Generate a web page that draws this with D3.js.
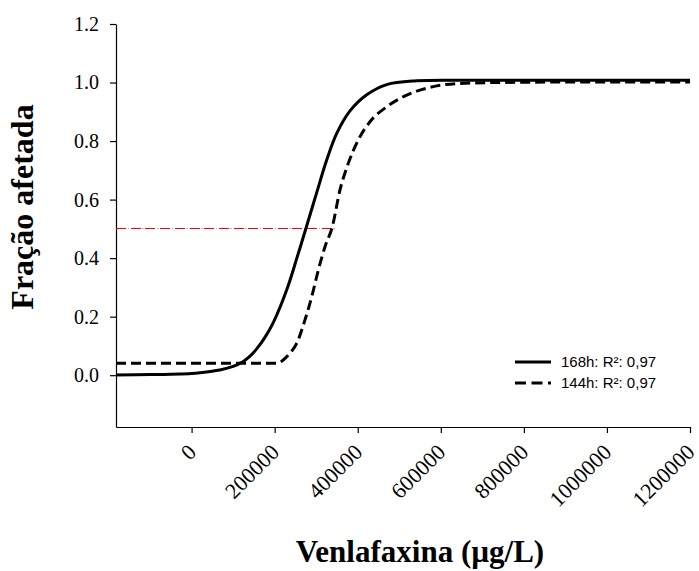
<!DOCTYPE html>
<html>
<head>
<meta charset="utf-8">
<script src="https://cdn.jsdelivr.net/npm/d3@7"></script>
<style>
  html, body { margin: 0; padding: 0; background: #fff; }
  svg { display: block; }
</style>
</head>
<body>
<svg id="chart" width="699" height="571"></svg>
<script>
// ---- data ----
const xTicks = [0, 200000, 400000, 600000, 800000, 1000000, 1200000];
const yTicks = [0.0, 0.2, 0.4, 0.6, 0.8, 1.0, 1.2];

const series168X = [-182000, -100000, 0, 20000, 68000, 100000, 124500, 140000, 156700, 177000, 198400, 230400, 254500, 275400, 301200, 325300, 349400, 381400, 421600, 469700, 542000, 650000, 800000, 1000000, 1200000];
const series168Y = [0.001, 0.002, 0.006, 0.0085, 0.018, 0.030, 0.047, 0.064, 0.090, 0.130, 0.185, 0.297, 0.405, 0.502, 0.624, 0.735, 0.826, 0.903, 0.958, 0.993, 1.006, 1.008, 1.008, 1.008, 1.008];

const series144X = [-182000, 0, 100000, 180000, 204000, 216000, 229000, 241000, 253000, 273000, 289200, 305100, 321200, 338800, 357300, 377300, 401400, 429500, 469700, 517900, 581900, 646200, 800000, 1000000, 1200000];
const series144Y = [0.041, 0.041, 0.041, 0.041, 0.041, 0.047, 0.063, 0.082, 0.109, 0.189, 0.268, 0.359, 0.439, 0.507, 0.633, 0.724, 0.804, 0.866, 0.917, 0.957, 0.986, 0.997, 1.001, 1.002, 1.002];

const refLineX = [-182000, 348000];
const refLineY = [0.5, 0.5];

const legendLabels = ["168h: R²: 0,97", "144h: R²: 0,97"];
const xTitle = "Venlafaxina (µg/L)";
const yTitle = "Fração afetada";

// ---- layout ----
const svg = d3.select("#chart");
const x = d3.scaleLinear().domain([-182000, 1200000]).range([116, 690]);
const y = d3.scaleLinear().domain([-0.177, 1.2]).range([427, 24]);

const serif = "'Liberation Serif', 'Times New Roman', serif";
const sans = "'Liberation Sans', Arial, sans-serif";

// axes
const yAxis = svg.append("g").attr("transform", `translate(${x.range()[0]},0)`)
  .call(d3.axisLeft(y).tickValues(yTicks).tickFormat(d3.format(".1f")).tickSize(6).tickSizeOuter(0).tickPadding(11));
yAxis.selectAll("text").attr("font-family", serif).attr("font-size", 20).attr("fill", "#000");
yAxis.selectAll("path, line").attr("stroke", "#000").attr("stroke-width", 1.2);

const xAxis = svg.append("g").attr("transform", `translate(0,${y.range()[0]})`)
  .call(d3.axisBottom(x).tickValues(xTicks).tickFormat(d3.format("d")).tickSize(6).tickSizeOuter(0));
xAxis.selectAll("path, line").attr("stroke", "#000").attr("stroke-width", 1.2);
xAxis.selectAll("text")
  .attr("font-family", serif).attr("font-size", 22).attr("fill", "#000")
  .attr("text-anchor", "end")
  .attr("x", 0).attr("y", 0).attr("dy", "0.35em")
  .attr("transform", "translate(0,21) rotate(-45)");

// reference line at 0.5
const refData = refLineX.map((d, i) => [d, refLineY[i]]);
const lineGen = d3.line().x(d => x(d[0])).y(d => y(d[1]));
svg.append("path").datum(refData).attr("d", lineGen)
  .attr("fill", "none").attr("stroke", "#b8b8b8").attr("stroke-width", 1)
  .attr("shape-rendering", "crispEdges")
  .attr("stroke-dasharray", "1.6,13.1").attr("stroke-dashoffset", -11.5);
svg.append("path").datum(refData).attr("d", lineGen)
  .attr("fill", "none").attr("stroke", "#ff0000").attr("stroke-width", 1)
  .attr("shape-rendering", "crispEdges")
  .attr("stroke-dasharray", "10,4.7");

// curves
const d168 = series168X.map((d, i) => [d, series168Y[i]]);
const d144 = series144X.map((d, i) => [d, series144Y[i]]);

svg.append("path").datum(d144)
  .attr("d", d3.line().x(d => x(d[0])).y(d => y(d[1])).curve(d3.curveMonotoneX))
  .attr("fill", "none").attr("stroke", "#000").attr("stroke-width", 3)
  .attr("stroke-dasharray", "10,5");
svg.append("path").datum(d168)
  .attr("d", d3.line().x(d => x(d[0])).y(d => y(d[1])).curve(d3.curveCatmullRom.alpha(0.5)))
  .attr("fill", "none").attr("stroke", "#000").attr("stroke-width", 3);

// legend
const leg = svg.append("g");
const legStyles = [null, "11,5.5"];
legendLabels.forEach((lab, i) => {
  const ly = 362 + i * 21;
  leg.append("line").attr("x1", 515).attr("x2", 551).attr("y1", ly).attr("y2", ly)
    .attr("stroke", "#000").attr("stroke-width", 3)
    .attr("stroke-dasharray", legStyles[i]);
  leg.append("text").attr("x", 561).attr("y", ly)
    .attr("dy", "0.35em")
    .attr("font-family", sans).attr("font-size", 15).attr("fill", "#000").text(lab);
});

// titles
svg.append("text").attr("x", 420).attr("y", 562).attr("text-anchor", "middle")
  .attr("font-family", serif).attr("font-weight", "bold").attr("font-size", 31)
  .attr("fill", "#000").text(xTitle);
svg.append("text").attr("transform", "translate(33,207) rotate(-90)").attr("text-anchor", "middle")
  .attr("font-family", serif).attr("font-weight", "bold").attr("font-size", 32)
  .attr("fill", "#000").text(yTitle);
</script>
</body>
</html>
